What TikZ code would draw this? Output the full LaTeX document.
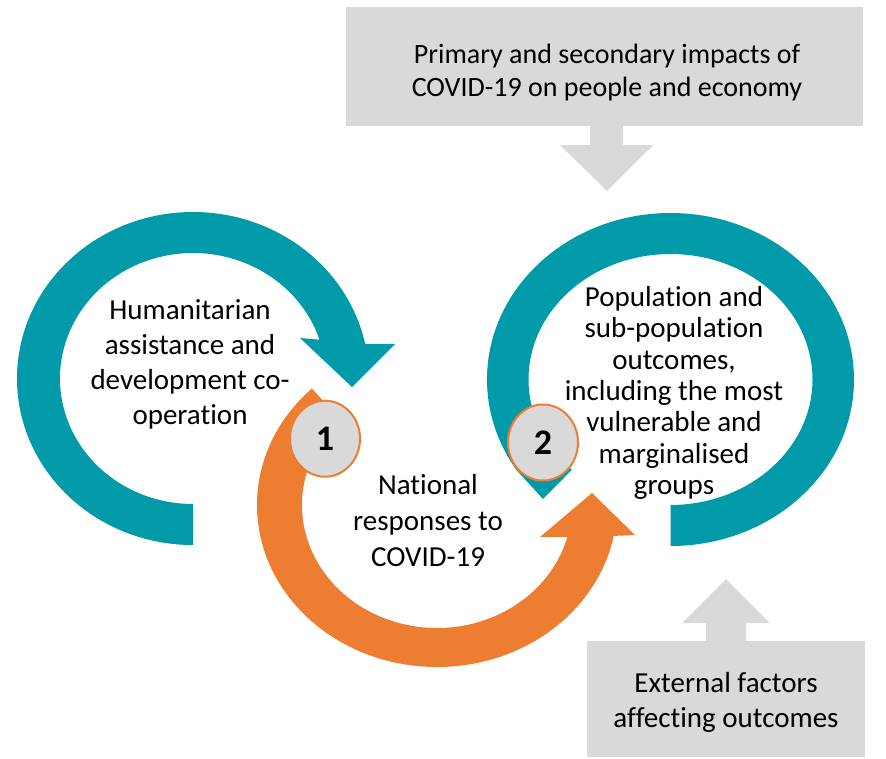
\documentclass[tikz,border=0pt]{standalone}
\usepackage{fontspec}
\setmainfont{Carlito}[Ligatures={NoCommon,NoContextual}]
\usetikzlibrary{calc,shapes.geometric}
\definecolor{ringteal}{RGB}{0,154,168}
\definecolor{ringorange}{HTML}{ED7D31}
\definecolor{boxgrey}{HTML}{D9D9D9}
\begin{document}
\begin{tikzpicture}[x=1pt,y=-1pt,
  txt/.style={align=center, inner sep=0pt, text=black},
  greybox/.style={fill=boxgrey, inner sep=0pt},
  numdisc/.style={ellipse, fill=boxgrey, draw=ringorange, line width=2pt,
     minimum width=70pt, minimum height=76pt, inner sep=0pt,
     font=\bfseries\fontsize{36}{40}\selectfont}]
\useasboundingbox (0,0) rectangle (886,758);

% top box and down arrow
\node[greybox, minimum width=517pt, minimum height=119pt] (topbox) at (604.5,66.5) {};
\fill[boxgrey] (590,125) -- (623,125) -- (623,145) -- (653,145) -- (607,191) -- (560,145) -- (590,145) -- cycle;
\node[txt, font=\fontsize{28}{33}\selectfont] (toptext) at (607,73) {Primary and secondary impacts of\\COVID-19 on people and economy};

% bottom box and up arrow
\node[greybox, minimum width=278pt, minimum height=116pt] (botbox) at (726,699) {};
\fill[boxgrey] (706,642) -- (706,623) -- (682,623) -- (726,579) -- (770,623) -- (746,623) -- (746,642) -- cycle;
\node[txt, font=\fontsize{29}{35}\selectfont] (bottext) at (726,702) {External factors\\affecting outcomes};

% left teal ring
\coordinate (lc) at (193,378.5);
\fill[ringteal] (lc) ++(90:176 and 166.5)
  arc[start angle=90, end angle=348, x radius=176, y radius=166.5]
  -- (395,344) -- (352,387) -- (300,338)
  -- ($(lc)+(342:133 and 125.5)$)
  arc[start angle=342, end angle=90, x radius=133, y radius=125.5] -- cycle;

% orange ring
\coordinate (oc) at (437,505);
\fill[ringorange] (oc) ++(226:180 and 162)
  arc[start angle=226, end angle=11, x radius=180, y radius=162]
  -- (635,535) -- (592,493) -- (540,537)
  -- ($(oc)+(15:135 and 123)$)
  arc[start angle=15, end angle=224, x radius=135, y radius=123] -- cycle;

% right teal ring
\coordinate (rc) at (670.5,379.5);
\fill[ringteal] (rc) ++(90:183.5 and 166.5)
  arc[start angle=90, end angle=-213, x radius=183.5, y radius=166.5]
  -- (543,499)
  -- ($(rc)+(134:142 and 125.5)$)
  arc[start angle=-226, end angle=90, x radius=142, y radius=125.5] -- cycle;

% texts
\node[txt, font=\fontsize{29}{35}\selectfont] (lefttext) at (190,364) {Humanitarian\\assistance and\\development co-\\operation};
\node[txt, font=\fontsize{29}{36}\selectfont] (midtext) at (428,521) {National\\responses to\\COVID-19};
\node[txt, font=\fontsize{29}{31.4}\selectfont] (righttext) at (674,393) {Population and\\sub-population\\outcomes,\\including the most\\vulnerable and\\marginalised\\groups};

% numbered discs
\node[numdisc] (one) at (325,438.7) {1};
\node[numdisc] (two) at (543,442.5) {2};
\end{tikzpicture}
\end{document}
